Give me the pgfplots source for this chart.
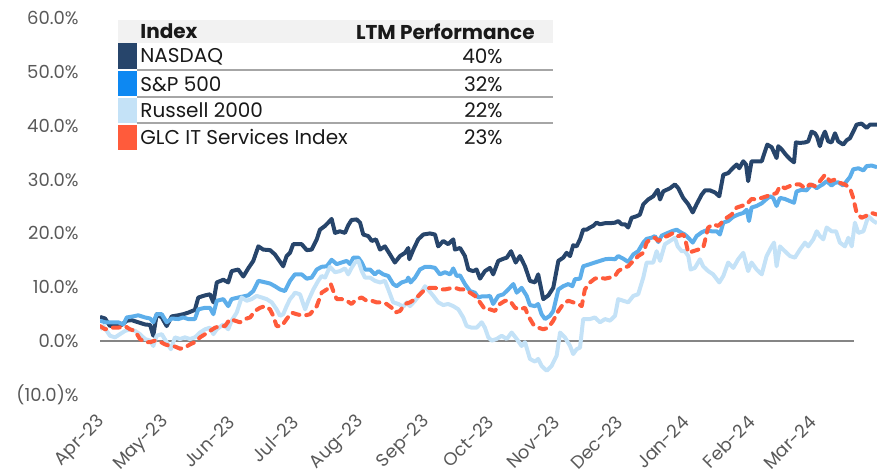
\documentclass[border=0pt]{standalone}
\usepackage{pgfplots}
\pgfplotsset{compat=1.18}
\usepackage{fontspec}
\setmainfont{Poppins}
\definecolor{nasdaq}{HTML}{27456B}
\definecolor{spline}{HTML}{5DAEEA}
\definecolor{spsw}{HTML}{0D88F2}
\definecolor{russ}{HTML}{C4E2F7}
\definecolor{glc}{HTML}{FF5B3B}
\definecolor{tickgray}{HTML}{595959}
\definecolor{zerogray}{HTML}{858585}
\definecolor{hdr}{HTML}{F2F2F2}
\definecolor{sep}{HTML}{A6A6A6}
\begin{document}
\begin{tikzpicture}
\useasboundingbox (-50pt,-40pt) rectangle (388.5pt,197.5pt);
\begin{axis}[
  at={(0pt,0pt)}, anchor=south west,
  scale only axis, width=388.5pt, height=188.5pt,
  xmin=0, xmax=366, ymin=-10, ymax=60,
  axis line style={draw=none}, major tick length=0pt,
  xtick={1,31,62,92,123,154,184,215,245,276,307,336},
  xticklabels={Apr-23,May-23,Jun-23,Jul-23,Aug-23,Sep-23,Oct-23,Nov-23,Dec-23,Jan-24,Feb-24,Mar-24},
  ytick={-10,0,10,20,30,40,50,60},
  yticklabels={(10.0)\%,0.0\%,10.0\%,20.0\%,30.0\%,40.0\%,50.0\%,60.0\%},
  ticklabel style={font=\fontsize{9}{11}\selectfont, text=tickgray, inner sep=0pt},
  xticklabel style={yshift=-12pt, anchor=east, rotate=45},
  yticklabel style={anchor=east, xshift=-10.5pt},
]
\addplot[zerogray, line width=1.3pt] coordinates {(0,0) (355,0)};
% NASDAQ
\addplot[nasdaq, line width=2pt, line join=round] table {
0 4.5
2.4 4.2
4.7 2.8
7.1 3.1
10.2 3.0
12.6 3.8
14.9 3.9
18.0 3.5
21.2 3.1
23.6 3.0
25.1 1.0
26.7 5.0
29.1 4.4
31.4 2.8
33.8 4.6
36.9 4.8
39.2 5.0
41.6 5.3
44.7 5.8
46.3 8.1
49.5 8.5
51.8 8.7
53.4 7.2
55.0 10.9
58.1 11.4
60.4 10.9
62.0 13.0
65.1 13.3
67.5 12.0
69.8 13.5
72.2 14.9
74.6 17.6
76.9 17.0
80.1 16.9
82.4 16.1
84.0 15.2
86.3 13.9
87.9 15.8
89.5 16.4
91.0 18.0
95.0 18.0
97.4 16.9
99.7 17.0
102.1 18.9
103.6 20.7
106.0 21.4
107.5 22.0
109.1 22.7
110.7 20.1
113.0 20.4
115.4 20.1
116.9 21.5
118.5 22.5
120.9 22.6
122.5 22.0
124.0 19.8
126.4 19.5
128.0 18.6
130.0 18.9
131.9 17.0
134.2 17.6
136.6 16.1
138.9 14.6
141.3 15.8
143.7 16.4
145.2 17.3
145.7 15.2
147.6 17.0
149.9 18.9
152.3 19.8
155.4 20.0
157.8 19.8
159.3 17.6
161.7 18.6
164.0 18.0
166.4 18.9
167.2 17.0
169.6 17.3
171.9 15.8
173.5 13.3
175.8 13.0
177.4 13.3
179.0 11.6
181.3 13.0
183.7 13.6
185.2 12.4
187.6 14.9
190.0 15.3
191.6 15.5
193.6 16.7
195.8 14.6
197.8 15.8
200.2 13.9
202.5 11.2
204.9 10.9
206.4 12.4
208.8 7.8
211.2 8.5
213.5 9.9
215.9 14.9
218.2 15.5
219.8 16.4
221.4 15.8
222.9 17.8
224.5 17.6
226.1 18.9
227.6 20.7
229.2 20.7
230.8 21.1
232.3 21.4
233.9 22.0
235.5 21.7
237.9 21.9
240.2 21.9
242.6 22.0
244.1 22.3
245.7 21.7
247.3 21.7
248.8 21.1
250.4 22.9
252.8 23.2
254.3 23.5
255.9 25.4
258.2 26.3
260.6 26.9
262.7 28.1
263.8 26.3
265.3 27.8
268.5 28.4
270.8 29.1
272.4 28.4
274.7 26.6
277.1 25.4
279.2 23.9
281.0 25.4
283.4 27.2
285.0 28.0
287.3 28.0
289.7 27.6
291.7 26.9
293.6 30.9
295.9 31.2
298.0 32.1
299.9 32.8
301.1 32.1
303.0 33.4
304.3 32.8
305.3 29.7
306.9 33.4
309.3 33.4
311.7 33.4
313.2 35.2
314.3 36.5
316.4 36.0
318.7 34.0
319.5 36.2
321.1 35.6
323.1 34.6
325.0 33.8
326.9 33.2
327.8 36.9
329.7 36.8
332.1 36.9
333.6 37.1
335.2 38.9
336.8 38.6
337.8 37.9
339.1 36.2
340.4 38.0
341.5 38.9
343.0 37.1
344.6 36.9
346.2 38.6
347.7 37.1
350.1 36.5
351.7 37.3
353.3 37.7
354.8 38.9
356.4 40.2
358.7 40.4
361.1 39.6
362.7 40.2
366.0 40.2
};
% S&P 500
\addplot[spline, line width=2pt, line join=round] table {
0 3.8
2.4 3.5
5.5 3.5
8.6 3.5
11.0 3.1
12.6 4.4
15.7 4.6
18.0 4.8
21.2 4.4
23.6 4.2
25.1 3.5
26.7 5.0
29.1 5.0
31.4 3.5
33.8 4.2
36.9 4.1
39.2 4.4
41.6 4.1
44.7 4.1
46.3 5.9
49.5 6.2
51.8 6.2
53.4 5.0
55.0 7.5
58.1 7.8
60.4 6.5
62.0 7.8
65.1 8.1
67.5 8.3
69.8 8.5
72.2 9.3
74.6 11.2
76.9 11.0
80.1 10.7
82.4 10.2
84.8 9.6
87.1 9.3
89.5 11.2
91.8 12.4
95.0 12.4
97.4 11.6
99.7 11.8
102.1 13.3
104.4 13.8
106.8 13.9
109.1 15.1
111.5 14.3
113.8 14.6
116.2 14.9
117.8 14.3
119.3 15.5
121.7 15.5
123.3 14.6
124.8 13.3
127.2 13.3
129.5 12.4
131.1 13.0
133.4 12.4
135.8 12.1
138.1 10.6
139.7 10.2
142.1 10.9
144.5 11.2
145.2 11.8
146.3 10.9
148.4 11.8
150.7 13.3
153.1 13.8
155.4 13.8
157.8 13.6
160.1 12.4
162.5 12.8
164.9 12.4
166.4 13.5
168.0 12.1
169.6 12.2
171.9 10.6
174.3 9.3
176.6 9.0
178.2 8.1
179.8 8.3
182.1 8.3
183.7 8.4
185.2 6.9
187.6 8.4
190.0 8.7
192.3 9.6
194.7 10.6
196.3 9.0
198.6 9.9
201.0 8.4
202.5 6.7
204.9 6.5
206.4 6.9
208.0 5.0
209.6 4.1
211.9 4.7
213.5 5.6
215.9 9.6
218.2 10.2
220.6 10.6
222.5 10.2
223.7 11.5
226.1 11.6
227.6 13.9
230.8 14.3
233.1 14.6
235.5 14.9
237.9 15.2
240.2 15.3
242.6 15.2
244.1 15.8
246.5 15.3
248.8 14.7
251.2 16.1
253.5 16.7
255.9 18.3
257.5 19.0
259.8 19.2
261.4 19.5
263.0 18.4
264.6 19.6
266.9 20.0
269.3 20.4
271.6 20.7
274.0 20.1
275.5 19.8
277.1 19.2
279.2 18.3
281.0 19.5
283.4 20.2
285.7 20.6
288.1 20.4
290.5 20.4
292.0 19.8
293.6 22.0
295.9 22.3
298.3 23.1
300.6 23.5
303.0 23.8
304.6 24.4
305.7 22.3
306.9 24.8
309.3 25.1
311.7 25.6
313.7 26.3
315.6 26.9
317.1 26.6
318.7 25.1
320.3 26.6
322.6 26.4
325.0 26.0
326.9 25.7
328.1 27.8
330.5 28.1
332.8 28.0
335.2 29.1
337.6 28.4
339.1 28.8
340.4 29.1
342.3 29.7
344.6 28.9
346.2 29.4
347.7 29.5
350.1 28.9
351.7 29.7
353.3 30.5
354.8 31.9
357.2 32.1
359.6 31.7
361.1 32.5
363.5 32.6
366.0 32.3
};
% Russell 2000
\addplot[russ, line width=2pt, line join=round] table {
0 2.2
1.6 2.8
4.7 1.0
7.1 0.7
9.4 1.3
11.8 1.9
14.1 2.2
16.5 1.9
18.8 1.3
21.2 0.4
23.6 0.1
25.1 -0.9
26.7 1.0
29.1 1.3
31.4 -0.2
33.4 -1.5
35.3 0.7
37.7 0.4
40.0 0.7
42.4 0.4
44.7 0.7
47.1 1.6
49.5 2.2
51.8 2.5
53.4 1.3
55.0 2.2
58.1 3.1
60.4 2.2
62.0 3.8
64.4 5.3
66.7 8.1
69.1 7.5
71.4 7.8
73.8 8.4
76.2 8.1
78.5 7.8
80.9 7.2
83.2 5.9
84.8 4.7
86.3 5.0
87.9 6.5
89.5 7.8
91.0 8.5
91.8 9.0
94.2 8.7
96.6 5.9
98.1 7.5
100.5 9.6
102.8 11.2
104.4 12.1
106.0 11.8
108.3 13.8
110.7 12.8
113.0 13.0
115.4 13.5
116.9 12.4
118.5 13.6
120.1 14.6
121.7 14.9
123.3 13.0
124.8 11.8
127.2 11.8
129.5 11.2
131.9 10.9
134.2 11.2
135.8 9.6
138.1 7.2
140.5 6.9
142.9 6.4
144.5 7.2
146.0 6.5
148.4 7.5
150.7 8.7
153.1 10.2
155.1 9.3
157.0 8.4
159.3 7.2
161.7 6.7
164.0 6.9
166.4 6.5
168.8 5.9
171.1 4.4
172.7 2.8
175.1 2.5
177.4 2.5
179.8 3.5
181.3 2.5
182.9 0.7
184.5 0.1
186.8 0.4
189.2 1.0
191.6 0.4
193.9 1.6
196.3 0.4
198.6 -0.9
200.2 -0.2
202.5 -3.3
204.9 -3.8
206.4 -3.3
208.0 -4.6
210.4 -5.5
212.7 -4.6
215.1 -2.7
216.7 1.6
219.0 0.7
221.4 -0.9
222.9 -2.4
224.5 -1.5
226.1 -1.2
227.6 4.1
230.8 4.1
233.1 4.4
235.5 3.5
237.9 4.1
240.2 3.8
242.6 4.7
244.1 7.8
246.5 7.5
248.8 7.2
251.2 8.4
253.5 8.7
255.9 11.8
257.5 14.6
260.6 14.6
262.2 16.7
263.8 14.9
266.1 18.0
268.5 18.6
270.8 19.2
272.1 17.6
274.0 16.7
275.5 16.7
277.1 15.8
278.2 13.3
280.2 13.6
282.6 15.2
284.1 13.9
286.5 13.0
288.8 12.4
291.7 10.9
293.6 12.1
295.9 14.6
298.3 13.6
300.6 15.2
303.0 16.4
305.3 13.0
306.9 14.6
309.3 13.3
311.7 12.4
314.0 15.8
316.4 17.6
317.5 18.3
318.7 13.9
320.3 17.6
322.6 16.7
325.0 15.8
327.3 15.5
329.7 17.0
332.1 18.3
333.6 17.6
336.0 18.9
337.6 20.4
339.1 19.5
340.7 18.9
342.3 21.1
344.6 20.4
346.7 20.4
348.5 18.3
350.9 17.6
352.5 19.2
354.1 17.6
355.6 22.0
357.2 20.1
359.6 20.4
361.9 23.2
364.3 22.3
366.0 21.9
};
% GLC IT Services Index
\addplot[glc, line width=2pt, line cap=round, line join=round, dash pattern=on 3.5pt off 3.5pt] table {
0 2.8
2.4 2.2
5.5 2.5
8.6 2.5
11.8 2.8
14.1 2.2
16.5 1.9
18.8 0.4
21.2 -0.2
23.6 -0.2
25.9 0.1
28.3 -0.1
30.6 -0.6
33.0 -0.9
35.3 -1.0
37.7 -1.4
40.0 -1.2
42.4 -0.6
44.7 -0.2
47.1 0.7
49.5 1.3
51.8 1.9
54.2 2.5
56.5 2.8
58.9 2.8
61.2 4.1
63.6 3.8
65.9 3.5
68.3 4.1
70.7 4.4
73.0 5.6
75.4 6.2
77.7 6.5
80.1 5.9
81.6 4.7
83.2 2.8
85.6 2.8
87.9 4.1
90.3 5.3
92.6 5.0
95.8 4.7
98.9 5.0
102.1 6.5
104.4 9.0
106.8 9.6
108.7 10.6
109.9 9.3
111.5 7.8
113.8 7.8
116.2 7.5
118.5 6.9
120.9 7.8
123.3 8.1
125.6 7.5
128.0 7.5
130.3 7.2
132.7 7.2
135.0 6.9
137.4 6.2
138.9 5.3
141.3 5.6
143.7 6.9
146.0 7.2
148.4 7.8
150.7 8.7
153.1 9.6
155.4 9.9
157.8 9.9
160.1 9.6
162.5 9.6
164.9 9.8
167.2 9.9
169.6 9.6
171.9 9.6
174.3 9.0
176.6 8.4
179.0 7.2
181.3 5.9
183.7 5.9
186.0 5.6
188.4 6.9
190.8 7.5
193.1 7.5
195.5 6.2
197.8 5.9
200.2 6.2
201.7 4.7
204.1 3.1
206.4 2.5
208.8 2.2
211.2 2.5
213.5 3.8
215.9 5.6
218.2 6.9
220.6 7.5
222.9 7.2
225.3 6.9
226.9 6.5
228.4 9.6
230.8 10.9
233.1 11.6
235.5 11.8
237.9 11.6
240.2 11.8
242.6 12.1
244.1 13.0
246.5 13.6
248.8 13.9
251.2 14.9
253.5 15.8
255.9 16.4
257.5 18.3
259.1 18.9
261.4 19.2
263.0 18.6
265.3 19.2
267.7 19.6
270.0 20.1
272.4 19.5
274.7 19.8
275.5 19.2
277.1 16.4
279.4 16.7
281.8 17.0
284.1 17.3
286.5 21.1
288.8 21.7
291.2 21.4
292.8 22.0
295.2 22.9
297.5 23.5
299.9 24.8
302.2 25.1
304.6 25.4
306.9 26.4
309.3 26.3
311.7 26.6
314.0 26.9
316.4 27.2
318.7 27.5
320.3 28.8
322.6 28.4
325.0 28.8
327.3 29.1
329.7 29.1
332.1 28.4
334.4 29.1
336.8 28.8
339.1 29.7
341.5 30.9
343.8 29.7
346.2 30.0
348.5 29.4
350.9 29.1
353.3 28.4
354.8 26.6
356.4 23.8
358.7 22.9
361.1 23.3
363.5 23.8
366.0 23.5
};
\end{axis}
% legend table
\fill[hdr] (9pt,176pt) rectangle (226.5pt,187.5pt);
\fill[nasdaq] (9pt,162.9pt) rectangle (18.5pt,176pt);
\fill[spsw] (9pt,149.3pt) rectangle (18.5pt,161.9pt);
\fill[russ] (9pt,136.1pt) rectangle (18.5pt,148.5pt);
\fill[glc] (9pt,122.5pt) rectangle (18.5pt,135.1pt);
\draw[sep, line width=0.6pt] (18.5pt,162.5pt) -- (226.5pt,162.5pt);
\draw[sep, line width=0.6pt] (18.5pt,149pt) -- (226.5pt,149pt);
\draw[sep, line width=0.6pt] (18.5pt,136pt) -- (226.5pt,136pt);
\begin{scope}[every node/.style={inner sep=0pt, font=\fontsize{10}{12}\selectfont, text=black!90}]
\node[anchor=west, font=\fontsize{10}{12}\selectfont\bfseries] at (20pt,181.8pt) {Index};
\node[anchor=east, font=\fontsize{10}{12}\selectfont\bfseries] at (217.5pt,181.8pt) {LTM Performance};
\node[anchor=west] at (20pt,169.2pt) {NASDAQ};
\node[anchor=west] at (20pt,155.2pt) {S\&P 500};
\node[anchor=west] at (20pt,142.5pt) {Russell 2000};
\node[anchor=west] at (20pt,128.8pt) {GLC IT Services Index};
\node[anchor=east] at (201.5pt,169.2pt) {40\%};
\node[anchor=east] at (201.5pt,155.2pt) {32\%};
\node[anchor=east] at (201.5pt,142.5pt) {22\%};
\node[anchor=east] at (201.5pt,128.8pt) {23\%};
\end{scope}
\end{tikzpicture}
\end{document}
